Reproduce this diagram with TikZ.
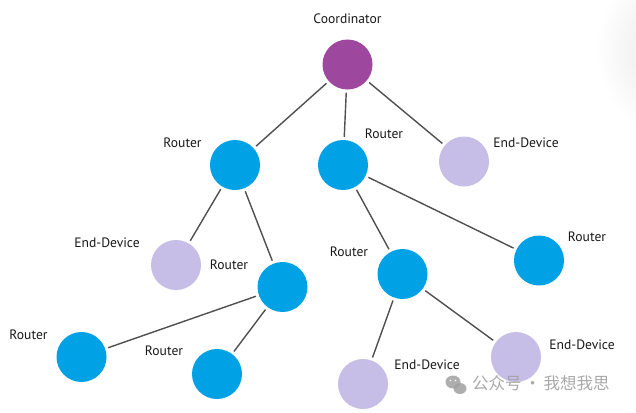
\documentclass[tikz,border=0pt]{standalone}
\usepackage{fontspec}
\newfontfamily\lblfamily{PT Sans}
\newfontfamily\cjkfam{Noto Sans CJK SC}
\definecolor{coordpurple}{HTML}{9E479E}
\definecolor{routerblue}{HTML}{00A2E5}
\definecolor{devlav}{HTML}{C6BEE6}
\definecolor{edgegray}{HTML}{505050}
\definecolor{wmgray}{HTML}{A0A0A0}
\begin{document}
\begin{tikzpicture}[x=1pt,y=-1pt,
  nd/.style={circle, inner sep=0pt, minimum size=50pt, draw=none},
  coordnode/.style={nd, fill=coordpurple},
  routernode/.style={nd, fill=routerblue},
  devnode/.style={nd, fill=devlav},
  lbl/.style={font=\lblfamily\fontsize{13.6}{15}\selectfont, text=black!90, inner sep=0pt},
  link/.style={draw=edgegray, line width=1.4pt, shorten >=3pt, shorten <=3pt}]
\useasboundingbox (0,0) rectangle (636,412);
\fill[white] (0,0) rectangle (636,412);
\begin{scope}
  \clip (560,0) rectangle (636,412);
  \shade[inner color=black!13, outer color=white] (700,50) ellipse (105 and 95);
\end{scope}
% nodes
\node[coordnode] (c) at (347.5,64.5) {};
\node[routernode] (r1) at (235,165) {};
\node[routernode] (r2) at (343,165) {};
\node[devnode] (e1) at (464,161.5) {};
\node[devnode] (e2) at (176,265) {};
\node[routernode] (r3) at (282.5,287) {};
\node[routernode] (r4) at (402.5,274) {};
\node[routernode] (r5) at (539,260.5) {};
\node[routernode] (r6) at (81.5,357) {};
\node[routernode] (r7) at (217,374) {};
\node[devnode] (e3) at (363,384) {};
\node[devnode] (e4) at (516,357) {};
% labels
\node[lbl] (lc) at (347.5,19) {Coordinator};
\node[lbl] (l1) at (182.5,143) {Router};
\node[lbl] (l2) at (384,134) {Router};
\node[lbl] (l3) at (526,143) {End-Device};
\node[lbl] (l4) at (107,243) {End-Device};
\node[lbl] (l5) at (229,265) {Router};
\node[lbl] (l6) at (349,252) {Router};
\node[lbl] (l7) at (587,237) {Router};
\node[lbl] (l8) at (28.5,335) {Router};
\node[lbl] (l9) at (164,351) {Router};
\node[lbl] (l10) at (427,365) {End-Device};
\node[lbl] (l11) at (582,345) {End-Device};
% links
\draw[link] (c) -- (r1);
\draw[link] (c) -- (r2);
\draw[link] (c) -- (e1);
\draw[link] (r1) -- (e2);
\draw[link] (r1) -- (r3);
\draw[link] (r3) -- (r6);
\draw[link] (r3) -- (r7);
\draw[link] (r2) -- (r4);
\draw[link] (r2) -- (r5);
\draw[link] (r4) -- (e3);
\draw[link] (r4) -- (e4);
% watermark
\begin{scope}[fill=wmgray, opacity=0.85]
  \fill (453,382) ellipse (7.5 and 6.5);
  \fill (460,388.5) ellipse (6.5 and 5.5);
\end{scope}
\fill[white] (450.5,380.5) circle (0.9);
\fill[white] (455.5,380.5) circle (0.9);
\node[font=\cjkfam\fontsize{16.5}{18}\selectfont, text=wmgray, anchor=west, inner sep=0pt, opacity=0.9] (wm) at (472,383) {公众号\,·\,我想我思};
\end{tikzpicture}
\end{document}
